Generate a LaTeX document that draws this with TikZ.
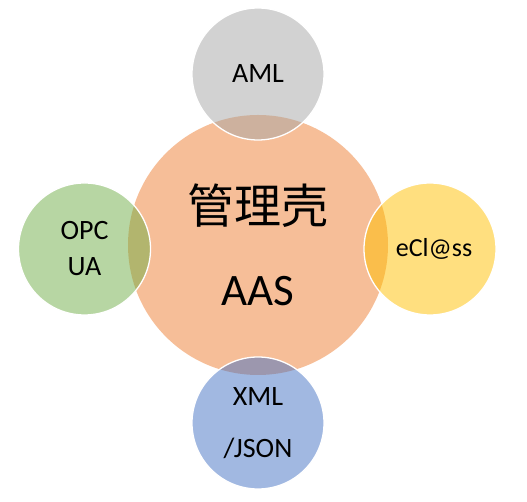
\documentclass[tikz,border=0pt]{standalone}
\usepackage{fontspec}
\setmainfont{Carlito}
\newfontfamily\cjk{Noto Sans CJK SC}
\usetikzlibrary{positioning}
\definecolor{aasorange}{HTML}{ED7D31}
\definecolor{amlgray}{HTML}{A5A5A5}
\definecolor{opcgreen}{HTML}{70AD47}
\definecolor{eclyellow}{HTML}{FFC000}
\definecolor{xmlblue}{HTML}{4472C4}

\begin{document}
\begin{tikzpicture}[x=1pt,y=1pt,
  bubble/.style={circle,inner sep=0pt,minimum size=#1,fill opacity=0.5,text opacity=1,align=center},
  sat/.style={bubble=132pt,draw=white,line width=1.3pt,font=\fontsize{28}{36}\selectfont}]
\useasboundingbox (0,0) rectangle (527,502);
\node[bubble=260pt,fill=aasorange,font=\fontsize{45}{82}\selectfont] (aas) at (258,257)
  {{\cjk\fontsize{47}{82}\selectfont 管理壳}\\AAS};
\foreach \n/\col/\x/\y/\txt in {aml/amlgray/258/428/{AML},
    opc/opcgreen/84.5/253/{OPC\\UA},
    eclass/eclyellow/430/253/{\hspace*{8pt}\fontsize{26}{30}\selectfont eCl@ss},
    xml/xmlblue/258/79/{XML\\[16pt]/JSON}}
  {\node[sat,fill=\col] (\n) at (\x,\y) {\txt};}
\end{tikzpicture}
\end{document}
